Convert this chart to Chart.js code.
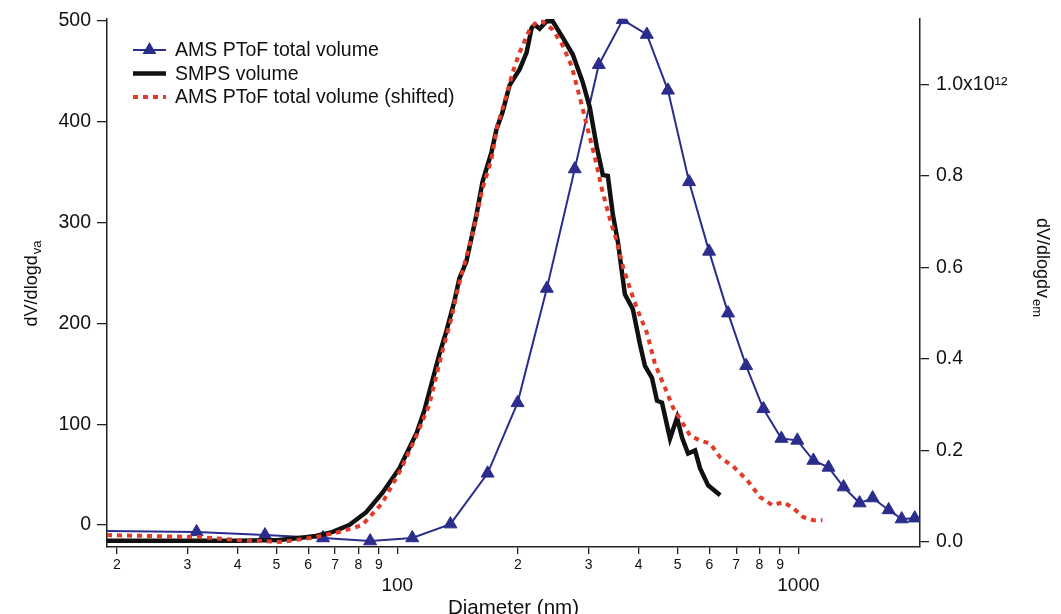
<!DOCTYPE html>
<html lang="en">
<head>
  <meta charset="UTF-8" />
  <title>AMS PToF vs SMPS volume distribution</title>
  <script src="https://cdn.jsdelivr.net/npm/chart.js"></script>
  <style>
    html, body {
      margin: 0;
      padding: 0;
      background: #fff;
    }
    canvas {
      display: block;
    }
  </style>
</head>
<body>
  <canvas id="sizeChart" width="1061" height="614"></canvas>

  <script>
    // AMS PToF total volume (right axis, dV/dlogd_em)
    const amsDiam = [18.9, 31.6, 46.8, 65.3, 85.6, 109, 135.7, 168, 199.5, 236, 277, 318, 365, 419, 473,
                     534, 599, 668, 741, 818, 907, 994, 1090, 1189, 1296, 1421, 1531, 1679, 1809, 1950];
    const amsVol = [0.024e12, 0.022e12, 0.015e12, 0.0087e12, 0.002e12, 0.0087e12, 0.039e12, 0.150e12,
                    0.304e12, 0.554e12, 0.815e12, 1.043e12, 1.141e12, 1.109e12, 0.987e12, 0.787e12,
                    0.635e12, 0.500e12, 0.385e12, 0.291e12, 0.226e12, 0.222e12, 0.178e12, 0.163e12,
                    0.120e12, 0.085e12, 0.096e12, 0.070e12, 0.050e12, 0.052e12];

    // SMPS volume (left axis)
    const smpsDiam = [18.9, 30, 40, 50.7, 56.9, 62.7, 68.8, 75.9, 83.7, 91.7, 101.2, 111.6, 116.8, 122.3,
                      127.4, 132.6, 138.8, 142.9, 148.7, 157.6, 163.1, 171.8, 176.8, 183.0, 190.5, 201.8,
                      210.1, 216.3, 220, 226.5, 235.8, 244.1, 258.6, 273.9, 290.1, 302, 314.4, 325.5, 335,
                      344.8, 354.8, 369.4, 386.8, 402.7, 414.5, 431.5, 444.2, 457.1, 478.6, 498.3, 512.9,
                      530.9, 552.7, 568.9, 595.7, 638.3];
    const smpsVol = [-15.5, -15.5, -15.5, -14.8, -12.8, -10.8, -6.9, 0, 12.8, 31.6, 56.2, 90.7, 113.4, 143,
                     169.6, 192.3, 221.9, 244.6, 261.3, 307.7, 340.2, 369.8, 392.5, 409.3, 435.9, 451.7,
                     468.4, 493, 496, 492, 499.5, 499.5, 483.2, 466.5, 438.9, 414.2, 374.8, 347.1, 346.2,
                     307.7, 281.1, 228.8, 214, 179.5, 157.8, 146, 123.3, 121.3, 85.8, 106.5, 86.8,
                     71, 74, 56.2, 39.4, 29.6];

    // AMS PToF total volume, shifted (left axis)
    const shiftDiam = [18.9, 24.0, 31.9, 40.3, 51.6, 62.7, 71.6, 81.8, 91.7, 101.2, 110.3, 120.2, 129.6,
                       136.5, 140.5, 145.4, 154, 163.1, 171.8, 177.8, 187.3, 193.9, 201.8, 213.8, 222.6,
                       230.4, 244.1, 258.6, 272.3, 285.1, 298.5, 310.8, 323.6, 338.8, 352.8, 365.2, 384.6,
                       395.8, 419.3, 439, 465.1, 487, 507, 537, 568.9, 602.6, 638.3, 687.9, 745.8, 803.5,
                       861, 917.3, 971.6, 1029, 1090, 1148];
    const shiftVol = [-9.9, -10.8, -11.8, -14.8, -16.8, -11.8, -6.9, 0, 21.7, 52.3, 83.8, 119.3, 172.6,
                      205.1, 228.8, 251.5, 288, 333.3, 362.9, 396.4, 426, 448.7, 468.4, 491.1, 499,
                      499, 491.1, 475.3, 454.6, 424, 392.5, 364.9, 333.3, 303.7, 281.1, 256.4, 228.8,
                      215, 190.3, 159.8, 136.1, 116.4, 105.5, 88.8, 83.8, 80.9, 67.1, 58.2, 44.4, 27.6,
                      19.7, 22.7, 16.8, 7.9, 4.9, 4.9];

    const xTickValues = [20, 30, 40, 50, 60, 70, 80, 90, 100, 200, 300, 400, 500, 600, 700, 800, 900, 1000];
    const xMajorTicks = [100, 1000];
    const leftTickValues = [0, 100, 200, 300, 400, 500];
    const rightTickValues = [0, 0.2e12, 0.4e12, 0.6e12, 0.8e12, 1.0e12];

    const FONT = '"Liberation Sans", Arial, sans-serif';
    const NAVY = '#2b2d8c';
    const BLACK = '#111111';
    const RED = '#e23b2a';

    const toXY = (xs, ys) => xs.map((x, i) => ({ x: x, y: ys[i] }));

    // legend drawn inside the plot area, top left
    const insetLegend = {
      id: 'insetLegend',
      afterDraw(chart) {
        const c = chart.ctx;
        const x0 = 133, x1 = 166, tx = 175;
        chart.data.datasets.forEach((ds, i) => {
          const y = 50 + i * 23.5;
          c.save();
          c.strokeStyle = ds.borderColor;
          c.lineWidth = ds.borderWidth;
          c.setLineDash(ds.borderDash || []);
          c.beginPath();
          c.moveTo(x0, y);
          c.lineTo(x1, y);
          c.stroke();
          if (ds.pointStyle === 'triangle') {
            const r = 8, cx = (x0 + x1) / 2;
            c.setLineDash([]);
            c.fillStyle = ds.borderColor;
            c.beginPath();
            c.moveTo(cx, y - r);
            c.lineTo(cx + r * 0.866, y + r * 0.5);
            c.lineTo(cx - r * 0.866, y + r * 0.5);
            c.closePath();
            c.fill();
          }
          c.fillStyle = BLACK;
          c.font = '19.5px ' + FONT;
          c.textBaseline = 'middle';
          c.textAlign = 'left';
          c.fillText(ds.label, tx, y + 1);
          c.restore();
        });
      }
    };

    // y axis titles with subscripts
    function drawSubTitle(c, main, sub, x, y, rot) {
      c.save();
      c.translate(x, y);
      c.rotate(rot);
      c.fillStyle = BLACK;
      c.textBaseline = 'middle';
      c.textAlign = 'left';
      c.font = '18px ' + FONT;
      const w1 = c.measureText(main).width;
      c.font = '13px ' + FONT;
      const w2 = c.measureText(sub).width;
      const start = -(w1 + w2) / 2;
      c.font = '18px ' + FONT;
      c.fillText(main, start, 0);
      c.font = '13px ' + FONT;
      c.fillText(sub, start + w1 + 1, 5);
      c.restore();
    }

    const axisTitles = {
      id: 'axisTitles',
      afterDraw(chart) {
        drawSubTitle(chart.ctx, 'dV/dlogd', 'va', 32, 284, -Math.PI / 2);
        drawSubTitle(chart.ctx, 'dV/dlogdv', 'em', 1042, 267, Math.PI / 2);
      }
    };

    const ctx = document.getElementById('sizeChart').getContext('2d');
    new Chart(ctx, {
      type: 'line',
      data: {
        datasets: [
          {
            label: 'AMS PToF total volume',
            data: toXY(amsDiam, amsVol),
            yAxisID: 'y2',
            borderColor: NAVY,
            backgroundColor: NAVY,
            borderWidth: 2,
            pointStyle: 'triangle',
            pointRadius: c => (c.dataIndex === 0 ? 0 : 7.5),
            pointBorderWidth: 1,
            tension: 0,
            order: 3
          },
          {
            label: 'SMPS volume',
            data: toXY(smpsDiam, smpsVol),
            yAxisID: 'y',
            borderColor: BLACK,
            borderWidth: 4.5,
            pointRadius: 0,
            tension: 0,
            order: 2
          },
          {
            label: 'AMS PToF total volume (shifted)',
            data: toXY(shiftDiam, shiftVol),
            yAxisID: 'y',
            borderColor: RED,
            borderWidth: 4,
            borderDash: [5, 5],
            borderCapStyle: 'butt',
            pointRadius: 0,
            tension: 0,
            order: 1
          }
        ]
      },
      options: {
        responsive: false,
        animation: false,
        layout: { padding: { top: 16 } },
        plugins: {
          legend: { display: false },
          tooltip: { enabled: false }
        },
        scales: {
          x: {
            type: 'logarithmic',
            position: 'bottom',
            min: 18.9,
            max: 2010,
            afterBuildTicks: s => { s.ticks = xTickValues.map(v => ({ value: v })); },
            afterFit: s => { s.height = 67; },
            ticks: {
              autoSkip: false,
              maxRotation: 0,
              padding: 3,
              color: BLACK,
              font: c => (c.tick && xMajorTicks.includes(c.tick.value)
                ? { family: FONT, size: 19, lineHeight: 1.0 }
                : { family: FONT, size: 14 }),
              callback: v => {
                if (xMajorTicks.includes(v)) return ['', String(v)];
                return String(v < 100 ? v / 10 : v / 100);
              }
            },
            grid: { drawOnChartArea: false, tickLength: 7, color: '#222', lineWidth: 1.3 },
            border: { color: '#222', width: 1.5 },
            title: {
              display: true,
              text: 'Diameter (nm)',
              color: BLACK,
              font: { family: FONT, size: 20.5 },
              padding: { top: 0, bottom: -7 }
            }
          },
          y: {
            position: 'left',
            min: -21.7,
            max: 502,
            afterBuildTicks: s => { s.ticks = leftTickValues.map(v => ({ value: v })); },
            afterFit: s => { s.width = 107; },
            ticks: { color: BLACK, padding: 6, font: { family: FONT, size: 19.5 } },
            grid: { drawOnChartArea: false, tickLength: 10, color: '#222', lineWidth: 1.3 },
            border: { color: '#222', width: 1.5 }
          },
          y2: {
            position: 'right',
            min: -0.011e12,
            max: 1.1435e12,
            afterBuildTicks: s => { s.ticks = rightTickValues.map(v => ({ value: v })); },
            afterFit: s => { s.width = 141; },
            ticks: {
              color: BLACK,
              padding: 7,
              font: { family: FONT, size: 19.5 },
              callback: v => (Math.abs(v - 1e12) < 1 ? '1.0x10\u00B9\u00B2' : (v / 1e12).toFixed(1))
            },
            grid: { drawOnChartArea: false, tickLength: 9, color: '#222', lineWidth: 1.3 },
            border: { color: '#222', width: 1.5 }
          }
        }
      },
      plugins: [insetLegend, axisTitles]
    });
  </script>
</body>
</html>
